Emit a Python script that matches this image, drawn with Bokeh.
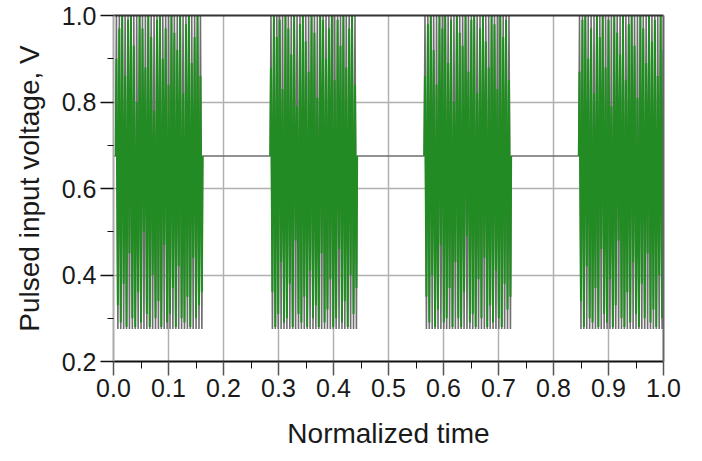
from bokeh.plotting import figure
from bokeh.models import Range1d, FixedTicker, PrintfTickFormatter, LinearAxis
from bokeh.embed import file_html
from bokeh.resources import INLINE

# ---------------- data ----------------
baseline = 0.675
carrier_high = 1.0
carrier_low = 0.275

burst_starts = [0.004, 0.285, 0.565, 0.846]
burst_ends = [0.162, 0.443, 0.723, 1.004]

peaks_1 = [0.90, 0.97, 1.00, 0.86, 0.99, 1.00, 0.93, 0.80, 1.00, 0.97, 0.88, 1.00, 0.95, 0.78, 0.99,
           1.00, 0.90, 0.97, 0.84, 1.00, 0.96, 0.92, 1.00, 0.82, 0.98, 1.00, 0.89, 0.95, 1.00, 0.86]
troughs_1 = [0.33, 0.29, 0.38, 0.28, 0.45, 0.30, 0.28, 0.36, 0.29, 0.50, 0.31, 0.28, 0.40, 0.30, 0.34,
             0.28, 0.47, 0.29, 0.31, 0.37, 0.28, 0.42, 0.30, 0.29, 0.35, 0.28, 0.44, 0.30, 0.33, 0.36]
peaks_2 = [0.88, 1.00, 0.95, 0.99, 0.83, 1.00, 0.97, 0.91, 1.00, 0.79, 0.98, 1.00, 0.94, 0.87, 1.00,
           0.96, 0.81, 1.00, 0.99, 0.90, 0.97, 1.00, 0.85, 0.99, 0.93, 1.00, 0.88, 0.97, 1.00, 0.84]
troughs_2 = [0.36, 0.28, 0.31, 0.43, 0.29, 0.30, 0.38, 0.28, 0.48, 0.31, 0.29, 0.35, 0.28, 0.41, 0.30,
             0.33, 0.28, 0.45, 0.29, 0.32, 0.39, 0.28, 0.30, 0.46, 0.29, 0.34, 0.28, 0.40, 0.31, 0.37]
peaks_3 = [0.86, 0.98, 1.00, 0.92, 0.84, 1.00, 0.97, 1.00, 0.89, 0.99, 0.80, 1.00, 0.96, 0.93, 1.00,
           0.87, 0.99, 1.00, 0.82, 0.97, 1.00, 0.94, 0.88, 1.00, 0.98, 0.83, 1.00, 0.95, 0.99, 0.85]
troughs_3 = [0.35, 0.29, 0.40, 0.28, 0.32, 0.47, 0.29, 0.30, 0.37, 0.28, 0.43, 0.30, 0.28, 0.36, 0.49,
             0.29, 0.31, 0.28, 0.39, 0.30, 0.44, 0.28, 0.33, 0.29, 0.41, 0.30, 0.28, 0.38, 0.32, 0.35]
peaks_4 = [0.87, 0.99, 1.00, 0.90, 0.97, 0.82, 1.00, 0.95, 1.00, 0.88, 0.99, 0.79, 1.00, 0.96, 0.91,
           1.00, 0.85, 0.98, 1.00, 0.93, 0.81, 1.00, 0.97, 0.89, 1.00, 0.94, 0.99, 0.86, 1.00, 0.92]
troughs_4 = [0.34, 0.28, 0.42, 0.30, 0.29, 0.37, 0.28, 0.46, 0.31, 0.29, 0.39, 0.28, 0.33, 0.48, 0.30,
             0.28, 0.36, 0.29, 0.43, 0.31, 0.28, 0.38, 0.30, 0.45, 0.29, 0.32, 0.28, 0.40, 0.30, 0.35]

burst_peaks = [peaks_1, peaks_2, peaks_3, peaks_4]
burst_troughs = [troughs_1, troughs_2, troughs_3, troughs_4]

x_ticks = [0.0, 0.1, 0.2, 0.3, 0.4, 0.5, 0.6, 0.7, 0.8, 0.9, 1.0]
x_minor = [0.05, 0.15, 0.25, 0.35, 0.45, 0.55, 0.65, 0.75, 0.85, 0.95]
y_ticks = [0.2, 0.4, 0.6, 0.8, 1.0]
y_minor = [0.3, 0.5, 0.7, 0.9]

# ---------------- build traces ----------------
gray_x, gray_y = [0.0], [baseline]
green_xs, green_ys = [], []
for s, e, pk, tr in zip(burst_starts, burst_ends, burst_peaks, burst_troughs):
    n = len(pk)
    step = (e - s) / n
    gx, gy = [s], [baseline]
    gray_x.append(s); gray_y.append(baseline)
    for k in range(n):
        xp = s + (k + 0.25) * step
        xt = s + (k + 0.75) * step
        gx += [xp, xt]; gy += [pk[k], tr[k]]
        gray_x += [xp, xt]; gray_y += [carrier_high, carrier_low]
    gx.append(e); gy.append(baseline)
    gray_x.append(e); gray_y.append(baseline)
    green_xs.append(gx); green_ys.append(gy)

FONT = "Liberation Sans"
TXT = "#1a1a1a"

p = figure(width=702, height=461, output_backend="svg", toolbar_location=None,
           x_range=Range1d(0.0, 1.0), y_range=Range1d(0.2, 1.0))
p.min_border_left = 113
p.min_border_right = 39
p.min_border_top = 15
p.min_border_bottom = 100
p.outline_line_color = None
p.background_fill_color = "white"
p.border_fill_color = "white"

p.line(gray_x, gray_y, line_color="#6e6e6e", line_width=1.6)
p.multi_line(green_xs, green_ys, line_color="#238b23", line_width=2.0)

# axes
xa = p.xaxis[0]
xa.ticker = FixedTicker(ticks=x_ticks, minor_ticks=x_minor)
xa.formatter = PrintfTickFormatter(format="%.1f")
xa.axis_label = "Normalized time"
xa.axis_line_color = "#111111"
xa.axis_line_width = 2
xa.major_tick_line_color = "#555555"
xa.major_tick_line_width = 1.5
xa.major_tick_out = 14
xa.major_tick_in = 0
xa.minor_tick_line_color = "#111111"
xa.minor_tick_out = 7
xa.minor_tick_in = 0
xa.major_label_standoff = 3
xa.axis_label_standoff = 18

ya = p.yaxis[0]
ya.ticker = FixedTicker(ticks=y_ticks, minor_ticks=y_minor)
ya.formatter = PrintfTickFormatter(format="%.1f")
ya.axis_label = "Pulsed input voltage, V"
ya.axis_line_color = "#aaaaaa"
ya.axis_line_width = 2
ya.major_tick_line_color = "#111111"
ya.major_tick_line_width = 1.5
ya.major_tick_out = 13
ya.major_tick_in = 0
ya.minor_tick_line_color = "#111111"
ya.minor_tick_out = 6
ya.minor_tick_in = 0
ya.major_label_standoff = 4
ya.axis_label_standoff = 14

for ax in (xa, ya):
    ax.major_label_text_font = FONT
    ax.major_label_text_font_size = "25px"
    ax.major_label_text_color = TXT
    ax.axis_label_text_font = FONT
    ax.axis_label_text_font_size = "28px"
    ax.axis_label_text_font_style = "normal"
    ax.axis_label_text_color = TXT

top_axis = LinearAxis(ticker=FixedTicker(ticks=[]), axis_line_color="#333333", axis_line_width=2,
                      major_tick_line_color=None, minor_tick_line_color=None)
right_axis = LinearAxis(ticker=FixedTicker(ticks=[]), axis_line_color="#666666", axis_line_width=2,
                        major_tick_line_color=None, minor_tick_line_color=None)
p.add_layout(top_axis, "above")
p.add_layout(right_axis, "right")

p.xgrid.ticker = FixedTicker(ticks=x_ticks)
p.ygrid.ticker = FixedTicker(ticks=y_ticks)
for g in (p.xgrid[0], p.ygrid[0]):
    g.grid_line_color = "#b0b0b0"
    g.grid_line_width = 1.5

open("out.html", "w").write(file_html(p, INLINE))
